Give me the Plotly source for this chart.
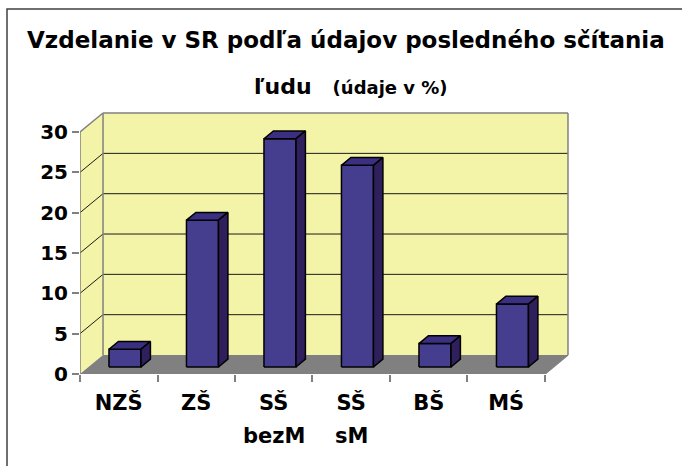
import plotly.graph_objects as go

# ---------------- data ----------------
categories = ["NZŠ", "ZŠ", "SŠ bezM", "SŠ sM", "BŠ", "MŚ"]
values = [2.2, 18.2, 28.3, 25.0, 2.9, 7.8]
y_ticks = [0, 5, 10, 15, 20, 25, 30]
title_main = "Vzdelanie v SR podľa údajov posledného sčítania"
title_sub1 = "ľudu"
title_sub2 = "(údaje v %)"

# ---------------- layout geometry ----------------
W, H = 682, 466
ML, MR, MT, MB = 80, 82, 100, 92
PW, PH = W - ML - MR, H - MT - MB
X_RANGE = [0, 6.71]
Y_RANGE = [0, 33.97]

DX, DY = 0.297, 2.355      # oblique depth of the 3D box (data units)
Y_MAX = 30
N = len(categories)
F0, F1 = 0.37, 0.78        # bar depth position (fraction of box depth)
BAR_L, BAR_W = 0.264, 0.413

WALL = "#F4F4A8"
FLOOR = "#808080"
EDGE = "#808080"
GRID = "#1a1a1a"
FRONT = "#453E8E"
TOP = "#3A2F80"
SIDE = "#2F1F5C"
FONT = "DejaVu Sans, Arial, sans-serif"


def px(x, y):
    """pixel -> paper coords"""
    return (x - ML) / PW, (H - MB - y) / PH


fig = go.Figure()
shapes = []


def poly(pts, fill, line_color=None, width=0, layer="below"):
    path = "M " + " L ".join(f"{x},{y}" for x, y in pts) + " Z"
    shapes.append(dict(type="path", path=path, xref="x", yref="y",
                       fillcolor=fill, line=dict(color=line_color or fill, width=width),
                       layer=layer))


def seg(x0, y0, x1, y1, color, width=1):
    shapes.append(dict(type="line", xref="x", yref="y", x0=x0, y0=y0, x1=x1, y1=y1,
                       line=dict(color=color, width=width), layer="below"))


# walls and floor
poly([(DX, DY), (N + DX, DY), (N + DX, Y_MAX + DY), (DX, Y_MAX + DY)], WALL)
poly([(0, 0), (DX, DY), (DX, Y_MAX + DY), (0, Y_MAX)], WALL)
poly([(0, 0), (N, 0), (N + DX, DY), (DX, DY)], FLOOR)

# gridlines
for v in y_ticks[1:-1]:
    seg(DX, v + DY, N + DX, v + DY, GRID, 1)
    seg(0, v, DX, v + DY, GRID, 1)

# box edges
seg(0, 0, 0, Y_MAX, EDGE, 1.5)
seg(0, Y_MAX, DX, Y_MAX + DY, EDGE, 1.5)
seg(DX, DY, DX, Y_MAX + DY, EDGE, 1.5)
seg(DX, Y_MAX + DY, N + DX, Y_MAX + DY, EDGE, 1.5)
seg(N + DX, DY, N + DX, Y_MAX + DY, EDGE, 1.5)
seg(0, 0, N, 0, EDGE, 1.5)
seg(N, 0, N + DX, DY, EDGE, 1.5)

# bars (3D prisms) drawn as filled traces
dd_x = (F1 - F0) * DX
dd_y = (F1 - F0) * DY
for i, v in enumerate(values):
    xl = i + BAR_L + F0 * DX
    xr = xl + BAR_W
    yb = F0 * DY
    yt = v + F0 * DY
    faces = [
        ([xl, xr, xr, xl, xl], [yb, yb, yt, yt, yb], FRONT),
        ([xl, xr, xr + dd_x, xl + dd_x, xl], [yt, yt, yt + dd_y, yt + dd_y, yt], TOP),
        ([xr, xr + dd_x, xr + dd_x, xr, xr], [yb, yb + dd_y, yt + dd_y, yt, yb], SIDE),
    ]
    for fx, fy, col in faces:
        fig.add_trace(go.Scatter(x=fx, y=fy, mode="lines", fill="toself",
                                 fillcolor=col, line=dict(color="black", width=1.5),
                                 hoverinfo="skip", showlegend=False))

# outer chart border
bx0, by0 = px(7, 9)
bx1, by1 = px(W + 20, H + 20)
shapes.append(dict(type="rect", xref="paper", yref="paper", x0=bx0, y0=by1, x1=bx1, y1=by0,
                   line=dict(color="#404040", width=1.5), fillcolor="rgba(0,0,0,0)", layer="above"))

annotations = []
tx, ty = px(346, 40)
annotations.append(dict(text=f"<b>{title_main}</b>", x=tx, y=ty, xref="paper", yref="paper",
                        showarrow=False, xanchor="center", yanchor="middle",
                        font=dict(family=FONT, size=23, color="black")))
tx, ty = px(351, 87)
annotations.append(dict(text=f"<b>{title_sub1}</b>\u00a0\u00a0\u00a0<b><span style='font-size:18px'>{title_sub2}</span></b>",
                        x=tx, y=ty, xref="paper", yref="paper",
                        showarrow=False, xanchor="center", yanchor="middle",
                        font=dict(family=FONT, size=22, color="black")))

# category labels: first word on the axis, remainder as a second line
first_words = [c.split(" ")[0] for c in categories]
for i, c in enumerate(categories):
    parts = c.split(" ")
    if len(parts) > 1:
        _, ly = px(0, 436)
        annotations.append(dict(text="<b>" + " ".join(parts[1:]) + "</b>", x=i + 0.5, y=ly,
                                xref="x", yref="paper", showarrow=False,
                                xanchor="center", yanchor="middle",
                                font=dict(family=FONT, size=21, color="black")))

fig.update_layout(
    width=W, height=H,
    margin=dict(l=ML, r=MR, t=MT, b=MB, pad=0),
    paper_bgcolor="white", plot_bgcolor="white",
    shapes=shapes, annotations=annotations,
    showlegend=False,
    xaxis=dict(range=X_RANGE, showgrid=False, zeroline=False, showline=False,
               tickmode="array", tickvals=[i + 0.5 for i in range(N)], ticktext=first_words,
               ticks="", ticklabelstandoff=14,
               tickfont=dict(family=FONT, size=21, color="black", weight="bold"),
               minor=dict(tickmode="array", tickvals=list(range(N + 1)), ticks="outside",
                          ticklen=7, tickcolor=EDGE, tickwidth=1.5, showgrid=False),
               fixedrange=True),
    yaxis=dict(range=Y_RANGE, showgrid=False, zeroline=False, showline=False,
               tickmode="array", tickvals=y_ticks, ticks="outside", ticklen=7,
               tickcolor=EDGE, tickwidth=1.5,
               tickfont=dict(family=FONT, size=20, color="black", weight="bold"),
               fixedrange=True),
)

fig.write_html("out.html", config={"displayModeBar": False},
               post_script="document.body.style.margin='0';")
